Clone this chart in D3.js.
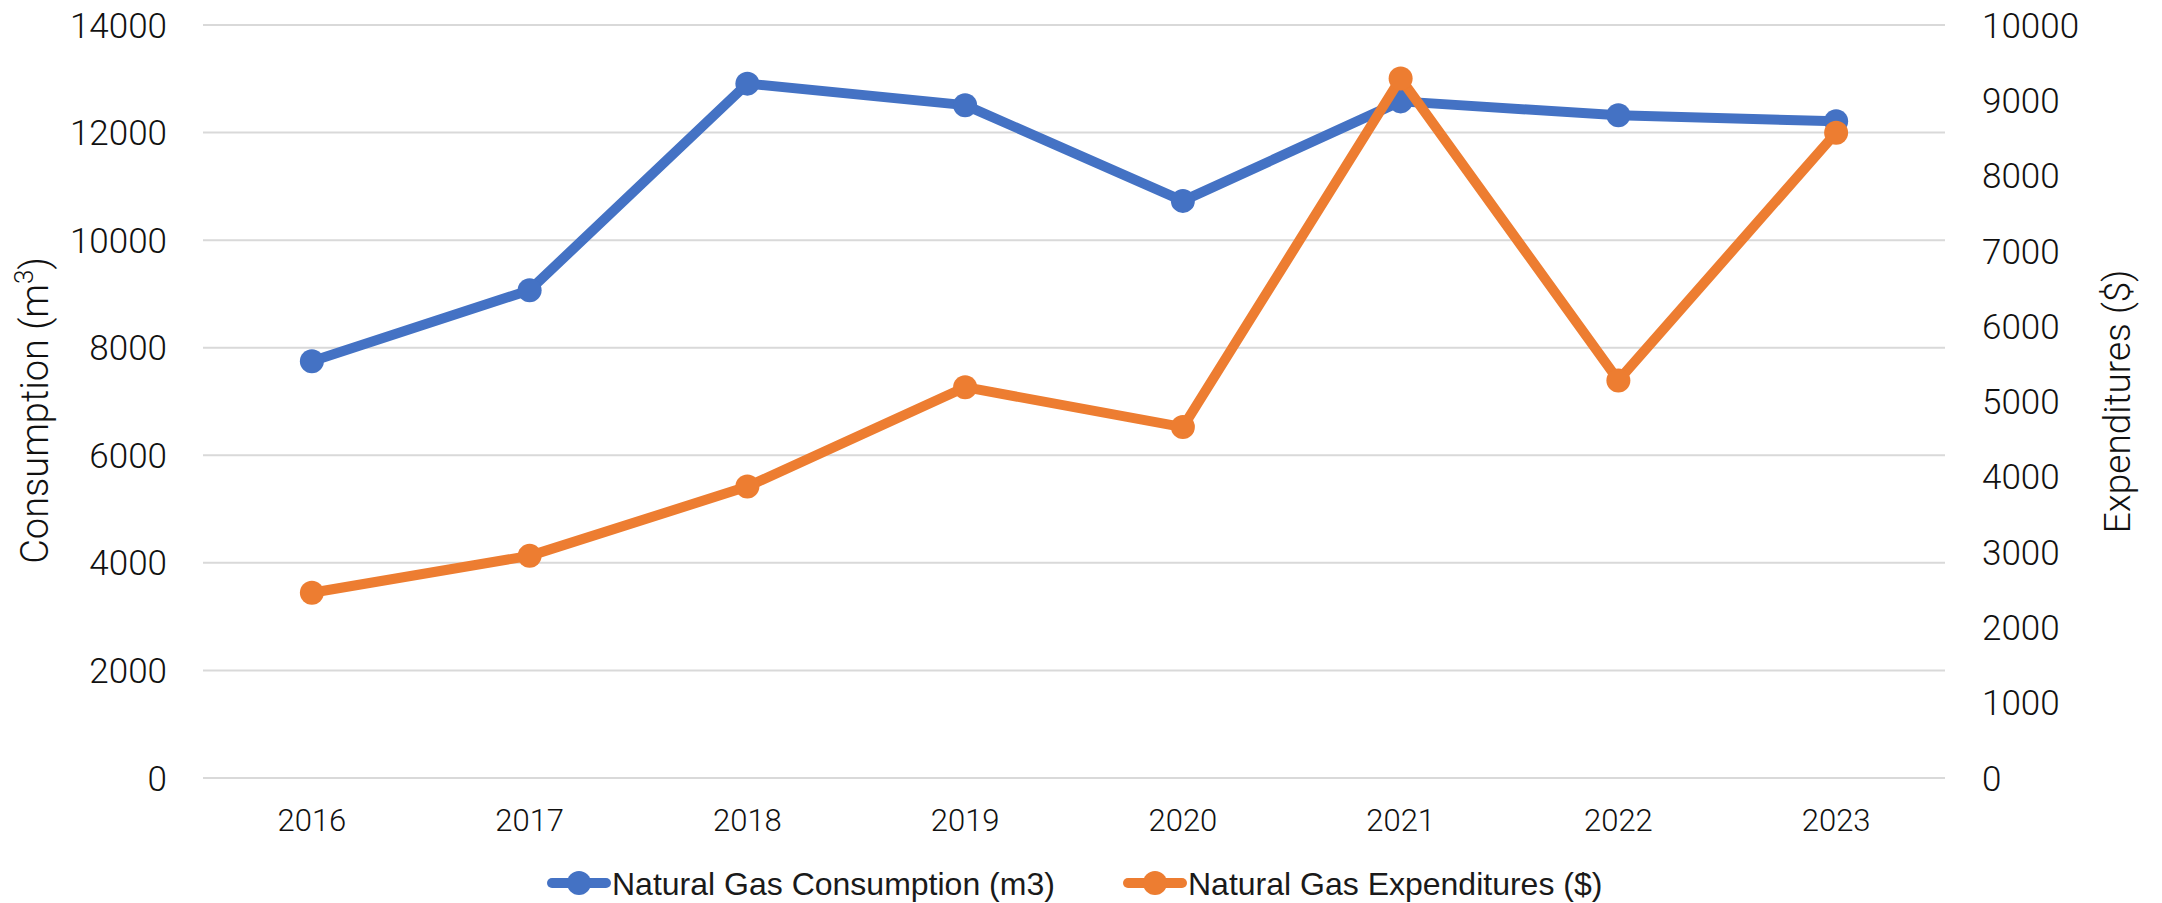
<!DOCTYPE html>
<html>
<head>
<meta charset="utf-8">
<script src="https://cdn.jsdelivr.net/npm/d3@7"></script>
<style>
  html, body { margin: 0; padding: 0; background: #fff; }
  svg text { font-family: "Liberation Sans", Arial, sans-serif; fill: #1a1a1a; }
  svg text.axis-text { font-family: Roboto, "Liberation Sans", sans-serif; font-weight: 300; fill: #111; }
</style>
</head>
<body>
<div id="chart"></div>
<script>
// Data
const years = ["2016", "2017", "2018", "2019", "2020", "2021", "2022", "2023"];
const consumption = [7750, 9070, 12910, 12510, 10730, 12580, 12320, 12210];
const expenditures = [2460, 2950, 3870, 5190, 4660, 9290, 5280, 8570];
const leftTicks = [0, 2000, 4000, 6000, 8000, 10000, 12000, 14000];
const rightTicks = [0, 1000, 2000, 3000, 4000, 5000, 6000, 7000, 8000, 9000, 10000];

const blue = "#4472C4";
const orange = "#ED7D31";

const W = 2162, H = 903;
const plot = { left: 203, right: 1945, top: 25, bottom: 778 };

const svg = d3.select("#chart")
    .append("svg")
    .attr("width", W)
    .attr("height", H);

// Scales
const x = d3.scaleBand()
    .domain(years)
    .range([plot.left, plot.right]);
const cx = d => x(d) + x.bandwidth() / 2;

const yLeft = d3.scaleLinear()
    .domain([0, 14000])
    .range([plot.bottom, plot.top]);

const yRight = d3.scaleLinear()
    .domain([0, 10000])
    .range([plot.bottom, plot.top]);

// Gridlines
svg.append("g")
    .selectAll("line")
    .data(leftTicks)
    .enter().append("line")
    .attr("x1", plot.left)
    .attr("x2", plot.right)
    .attr("y1", d => yLeft(d))
    .attr("y2", d => yLeft(d))
    .attr("stroke", "#d9d9d9")
    .attr("stroke-width", 2);

// Left axis labels
svg.append("g")
    .selectAll("text")
    .data(leftTicks)
    .enter().append("text")
    .attr("class", "axis-text")
    .attr("x", 167)
    .attr("y", d => yLeft(d))
    .attr("dy", "0.36em")
    .style("text-anchor", "end")
    .style("font-size", "35px")
    .text(d => d);

// Right axis labels
svg.append("g")
    .selectAll("text")
    .data(rightTicks)
    .enter().append("text")
    .attr("class", "axis-text")
    .attr("x", 1982)
    .attr("y", d => yRight(d))
    .attr("dy", "0.36em")
    .style("text-anchor", "start")
    .style("font-size", "35px")
    .text(d => d);

// X axis labels
svg.append("g")
    .selectAll("text")
    .data(years)
    .enter().append("text")
    .attr("class", "axis-text")
    .attr("x", d => cx(d))
    .attr("y", 820)
    .attr("dy", "0.36em")
    .style("text-anchor", "middle")
    .style("font-size", "31px")
    .text(d => d);

// Axis titles
const leftTitle = svg.append("text")
    .attr("class", "axis-text")
    .attr("transform", `translate(34, ${(plot.top + plot.bottom) / 2 + 9}) rotate(-90)`)
    .attr("dy", "0.36em")
    .style("text-anchor", "middle")
    .style("font-size", "38px");
leftTitle.append("tspan").text("Consumption (m");
leftTitle.append("tspan").attr("baseline-shift", "super").style("font-size", "26px").text("3");
leftTitle.append("tspan").text(")");

svg.append("text")
    .attr("class", "axis-text")
    .attr("transform", `translate(2117, ${(plot.top + plot.bottom) / 2}) rotate(-90)`)
    .attr("dy", "0.36em")
    .style("text-anchor", "middle")
    .style("font-size", "37px")
    .text("Expenditures ($)");

// Lines and markers
function drawSeries(values, scale, color) {
    const pts = years.map((yr, i) => [cx(yr), scale(values[i])]);
    svg.append("path")
        .datum(pts)
        .attr("d", d3.line())
        .attr("fill", "none")
        .attr("stroke", color)
        .attr("stroke-width", 10)
        .attr("stroke-linejoin", "round");
    svg.append("g")
        .selectAll("circle")
        .data(pts)
        .enter().append("circle")
        .attr("cx", d => d[0])
        .attr("cy", d => d[1])
        .attr("r", 12)
        .attr("fill", color);
}

drawSeries(consumption, yLeft, blue);
drawSeries(expenditures, yRight, orange);

// Legend
const legendItems = [
    { label: "Natural Gas Consumption (m3)", color: blue, x: 548 },
    { label: "Natural Gas Expenditures ($)", color: orange, x: 1124 }
];

const legend = svg.selectAll(".legend")
    .data(legendItems)
    .enter().append("g")
    .attr("class", "legend")
    .attr("transform", d => `translate(${d.x}, 883)`);

legend.append("line")
    .attr("x1", 4)
    .attr("x2", 58)
    .attr("stroke", d => d.color)
    .attr("stroke-width", 10)
    .attr("stroke-linecap", "round");

legend.append("circle")
    .attr("cx", 31)
    .attr("r", 12)
    .attr("fill", d => d.color);

legend.append("text")
    .attr("x", 64)
    .attr("dy", "0.36em")
    .style("font-size", "32px")
    .text(d => d.label);
</script>
</body>
</html>
